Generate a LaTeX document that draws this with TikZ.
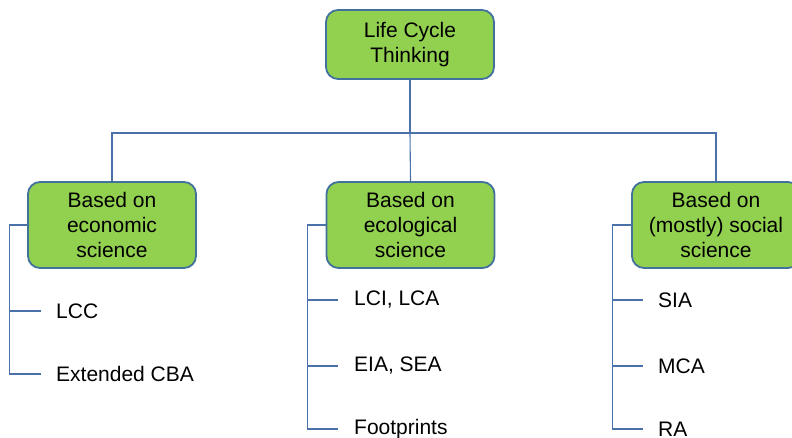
\documentclass[tikz,border=0pt]{standalone}
\usepackage{fontspec}
\setmainfont{Liberation Sans}
\definecolor{boxfill}{HTML}{92D050}
\definecolor{boxedge}{HTML}{41719C}
\definecolor{linkcol}{HTML}{4A72A8}
\begin{document}
\begin{tikzpicture}[x=1pt,y=-1pt,
  catbox/.style={draw=boxedge,fill=boxfill,line width=1.8pt,rounded corners=12pt,
     minimum width=168pt,align=center,inner sep=0pt,
     font=\fontsize{21}{25}\selectfont},
  item/.style={anchor=west,inner sep=0pt,font=\fontsize{21}{25}\selectfont},
  link/.style={draw=linkcol,line width=1.1pt}]
\useasboundingbox (0,0) rectangle (792,438);
\node[catbox,minimum height=69pt] (top) at (410,44.5) {Life Cycle\\Thinking};
\node[catbox,minimum height=86pt] (b1) at (112,225) {Based on\\economic\\science};
\node[catbox,minimum height=86pt] (b2) at (410.5,225) {Based on\\ecological\\science};
\node[catbox,minimum height=86pt] (b3) at (716,225) {Based on\\(mostly) social\\science};
\coordinate (bar) at (410,133);
\draw[link] (top.south) -- (bar);
\draw[link] (b1.north) |- (bar) -| (b3.north);
\draw[link] (bar) -- (b2.north);
% left column
\node[item] (i11) at (56,311) {LCC};
\node[item] (i12) at (56,374) {Extended CBA};
\draw[link] (b1.west) -- ++(-18,0) |- ([xshift=-15pt]i12.west);
\draw[link] ([xshift=-46pt]i11.west) -- ([xshift=-15pt]i11.west);
% middle column
\node[item] (i21) at (354,300) {LCI, LCA};
\node[item] (i22) at (354,366) {EIA, SEA};
\node[item] (i23) at (354,429) {Footprints};
\draw[link] (b2.west) -- ++(-18,0) |- ([xshift=-16pt]i23.west);
\draw[link] ([xshift=-46pt]i21.west) -- ([xshift=-16pt]i21.west);
\draw[link] ([xshift=-46pt]i22.west) -- ([xshift=-16pt]i22.west);
% right column
\node[item] (i31) at (658,300) {SIA};
\node[item] (i32) at (658,366) {MCA};
\node[item] (i33) at (658,429) {RA};
\draw[link] (b3.west) -- ++(-19,0) |- ([xshift=-15pt]i33.west);
\draw[link] ([xshift=-45pt]i31.west) -- ([xshift=-15pt]i31.west);
\draw[link] ([xshift=-45pt]i32.west) -- ([xshift=-15pt]i32.west);
\end{tikzpicture}
\end{document}
